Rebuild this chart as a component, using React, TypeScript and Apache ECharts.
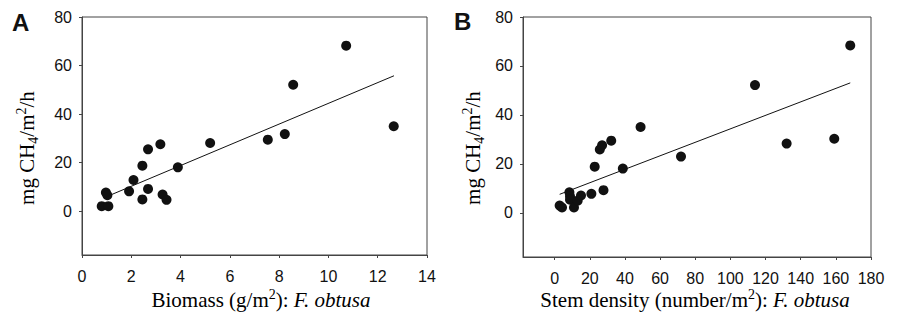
import React, { useEffect, useRef } from "react";
import * as echarts from "echarts";

// Panel A: biomass (g/m2) vs CH4 flux
const biomassX = [0.8, 1.07, 0.97, 1.03, 1.91, 2.09, 2.45, 2.45, 2.68, 2.68, 3.18, 3.27, 3.43, 3.89, 5.2, 7.54, 8.23, 8.57, 10.72, 12.65];
const biomassY = [2.1, 2.1, 7.7, 6.6, 8.2, 12.9, 18.8, 4.9, 25.5, 9.2, 27.6, 6.9, 4.7, 18.1, 28.1, 29.5, 31.8, 52.1, 68.2, 35.0];
const fitA = [[0.97, 5.9], [12.66, 55.8]];

// Panel B: stem density (number/m2) vs CH4 flux
const stemX = [2.85, 4.2, 8.4, 8.75, 8.75, 11.0, 13.1, 15.0, 20.9, 22.8, 25.7, 27.0, 27.8, 32.2, 38.8, 48.9, 71.9, 114.0, 132.0, 159.1, 168.2];
const stemY = [3.0, 2.2, 8.4, 6.8, 5.4, 2.2, 5.0, 7.1, 7.8, 18.9, 25.9, 27.6, 9.3, 29.5, 18.1, 35.1, 23.0, 52.2, 28.3, 30.3, 68.4];
const fitB = [[2.85, 7.6], [168.2, 53.1]];

const yTicks = [0, 20, 40, 60, 80];
const xTicksA = [0, 2, 4, 6, 8, 10, 12, 14];
const xTicksB = [0, 20, 40, 60, 80, 100, 120, 140, 160, 180];

const SANS = "'Liberation Sans', Arial, sans-serif";
const SERIF = "'Liberation Serif', 'Times New Roman', serif";
const AXIS_COLOR = "#444";
const DOT = "#111";

export default function App() {
  const ref = useRef<HTMLDivElement>(null);
  useEffect(() => {
    document.body.style.margin = "0";
    if (!ref.current) return;
    const chart = echarts.init(ref.current, null, { renderer: "svg" });
    const axisLabel = { color: "#111", fontFamily: SANS, fontSize: 16 };
    const mkX = (grid: number, min: number, max: number, ticks: number[]) => ({
      type: "value",
      gridIndex: grid,
      min,
      max,
      splitLine: { show: false },
      axisLine: { show: true, onZero: false, lineStyle: { color: AXIS_COLOR, width: 1 } },
      axisTick: { show: true, inside: false, length: 3, customValues: ticks, lineStyle: { color: AXIS_COLOR } },
      axisLabel: { ...axisLabel, margin: 13, customValues: ticks },
    });
    const mkY = (grid: number) => ({
      type: "value",
      gridIndex: grid,
      min: -18,
      max: 80,
      splitLine: { show: false },
      axisLine: { show: true, onZero: false, lineStyle: { color: AXIS_COLOR, width: 1 } },
      axisTick: { show: true, inside: false, length: 3, customValues: yTicks, lineStyle: { color: AXIS_COLOR } },
      axisLabel: { ...axisLabel, margin: 10, customValues: yTicks },
    });
    const pts = (xs: number[], ys: number[]) => xs.map((x, i) => [x, ys[i]]);
    const mkRich = (size: number, small: number) => ({
      n: { fontFamily: SERIF, fontSize: size, color: "#222", lineHeight: 26 },
      sub: { fontFamily: SERIF, fontSize: small, color: "#222", verticalAlign: "bottom", lineHeight: 18 },
      sup: { fontFamily: SERIF, fontSize: small, color: "#222", verticalAlign: "top", lineHeight: 18 },
      i: { fontFamily: SERIF, fontSize: size, color: "#222", fontStyle: "italic", lineHeight: 26 },
    });
    const richY = mkRich(21, 14);
    const richX = mkRich(21, 14);
    const yName = "{n|mg CH}{sub|4}{n|/m}{sup|2}{n|/h}";
    chart.setOption({
      animation: false,
      backgroundColor: "#fff",
      grid: [
        { left: 82, top: 17, width: 345, height: 238, show: true, borderColor: AXIS_COLOR, borderWidth: 1, backgroundColor: "transparent" },
        { left: 523, top: 17, width: 348, height: 240, show: true, borderColor: AXIS_COLOR, borderWidth: 1, backgroundColor: "transparent" },
      ],
      xAxis: [mkX(0, 0, 14, xTicksA), mkX(1, -18, 180, xTicksB)],
      yAxis: [mkY(0), mkY(1)],
      series: [
        { type: "scatter", xAxisIndex: 0, yAxisIndex: 0, data: pts(biomassX, biomassY), symbolSize: 10, itemStyle: { color: DOT, opacity: 1 } },
        { type: "line", xAxisIndex: 0, yAxisIndex: 0, data: fitA, showSymbol: false, symbol: "none", lineStyle: { color: "#111", width: 1 } },
        { type: "scatter", xAxisIndex: 1, yAxisIndex: 1, data: pts(stemX, stemY), symbolSize: 10, itemStyle: { color: DOT, opacity: 1 } },
        { type: "line", xAxisIndex: 1, yAxisIndex: 1, data: fitB, showSymbol: false, symbol: "none", lineStyle: { color: "#111", width: 1 } },
      ],
      graphic: [
        { type: "text", x: 12, y: 22, style: { text: "A", font: `bold 24px ${SANS}`, fill: "#111", verticalAlign: "middle" } },
        { type: "text", x: 454, y: 21, style: { text: "B", font: `bold 24px ${SANS}`, fill: "#111", verticalAlign: "middle" } },
        { type: "text", x: 27, y: 148, rotation: Math.PI / 2, style: { text: yName, rich: richY, align: "center", verticalAlign: "middle" } },
        { type: "text", x: 473, y: 148, rotation: Math.PI / 2, style: { text: yName, rich: richY, align: "center", verticalAlign: "middle" } },
        { type: "text", x: 261, y: 300, style: { text: "{n|Biomass (g/m}{sup|2}{n|): }{i|F. obtusa}", rich: richX, align: "center", verticalAlign: "middle" } },
        { type: "text", x: 695, y: 300, style: { text: "{n|Stem density (number/m}{sup|2}{n|): }{i|F. obtusa}", rich: richX, align: "center", verticalAlign: "middle" } },
      ],
    });
    return () => chart.dispose();
  }, []);
  return <div ref={ref} style={{ width: 901, height: 321 }} />;
}
